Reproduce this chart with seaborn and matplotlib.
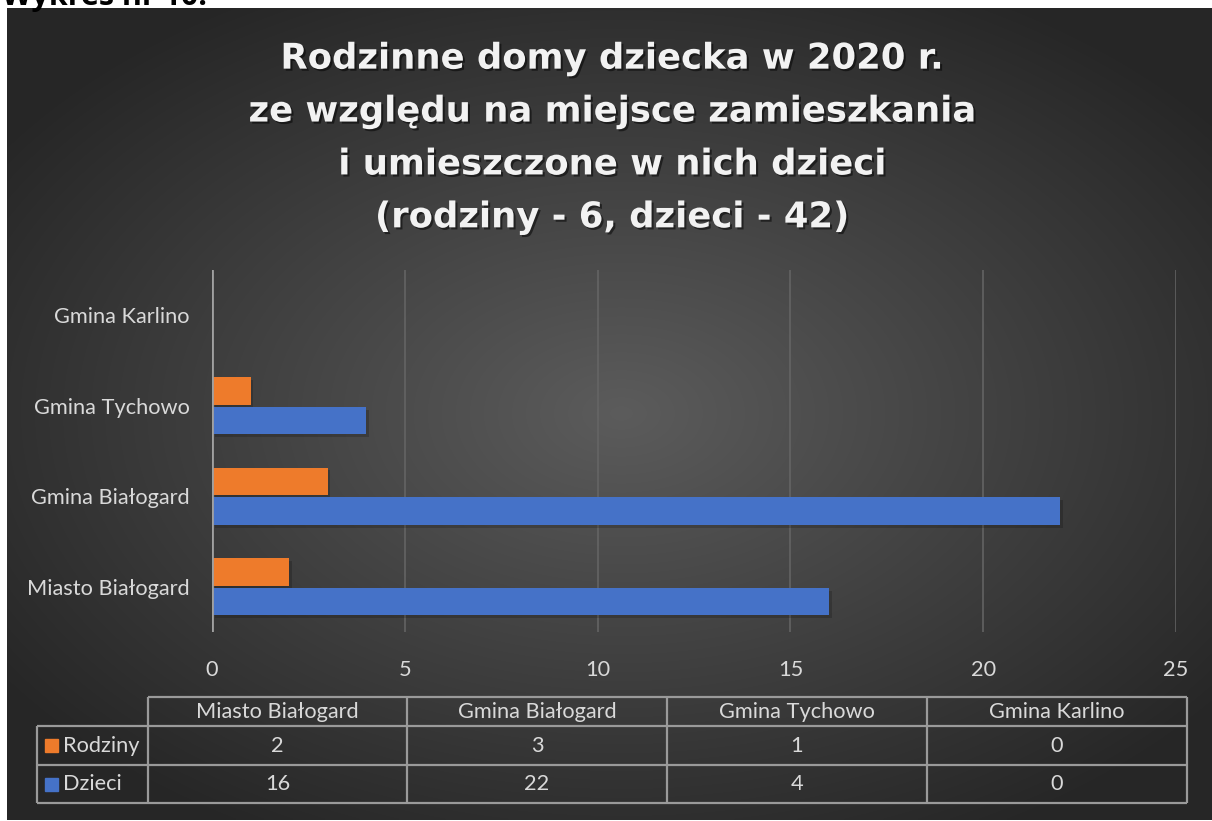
import numpy as np
import pandas as pd
import matplotlib
matplotlib.use("Agg")
import matplotlib.pyplot as plt
import matplotlib.patheffects as pe
import seaborn as sns

# dane
gminy = ['Miasto Białogard', 'Gmina Białogard', 'Gmina Tychowo', 'Gmina Karlino']
rodziny = [2, 3, 1, 0]
dzieci = [16, 22, 4, 0]
serie = ['Rodziny', 'Dzieci']
x_ticks = [0, 5, 10, 15, 20, 25]
tytul = 'Rodzinne domy dziecka w 2020 r.\nze względu na miejsce zamieszkania\ni umieszczone w nich dzieci\n(rodziny - 6, dzieci - 42)'

kolor_rodziny = '#EE7B2B'
kolor_dzieci = '#4572C8'
kolor_tekstu = '#d9d9d9'
fs = 15.7

df = pd.DataFrame({
    'gmina': gminy * 2,
    'seria': ['Rodziny'] * len(gminy) + ['Dzieci'] * len(gminy),
    'wartosc': rodziny + dzieci,
})

sns.set_style("white")
plt.rcParams['font.family'] = ['Lato', 'DejaVu Sans']

W, H = 1212, 821
fig = plt.figure(figsize=(W / 100, H / 100), dpi=100)
fig.patch.set_facecolor('white')

# tlo z gradientem (ciemny prostokat)
x0, y0, x1, y1 = 7, 8, 1212, 820
ax_bg = fig.add_axes([x0 / W, 1 - y1 / H, (x1 - x0) / W, (y1 - y0) / H])
gx, gy = np.meshgrid(np.linspace(-1, 1, 400), np.linspace(-1, 1, 300))
r = np.sqrt(((gx - 0.02) / 1.0) ** 2 + ((gy + 0.0) / 0.95) ** 2)
g = 0.36 - 0.21 * np.clip(r, 0, 1.25) / 1.25
ax_bg.imshow(np.dstack([g, g, g]), aspect='auto', extent=[0, 1, 0, 1], interpolation='bilinear')
ax_bg.set_axis_off()

# wykres glowny
ax = fig.add_axes([212 / W, 1 - 632 / H, (1176 - 212) / W, (632 - 270) / H])
ax.patch.set_alpha(0)
order_plot = gminy[::-1]
sns.barplot(data=df, y='gmina', x='wartosc', hue='seria', order=order_plot,
            hue_order=serie, palette=[kolor_rodziny, kolor_dzieci],
            orient='h', width=0.66, gap=0.08, ax=ax, legend=False, saturation=1,
            linewidth=0, edgecolor='none')
for p in ax.patches:
    p.set_path_effects([pe.SimplePatchShadow(offset=(2, -2), shadow_rgbFace='black', alpha=0.18), pe.Normal()])

ax.set_xlim(0, 25)
ax.set_ylim(3.5, -0.5)
ax.set_xticks(x_ticks)
ax.xaxis.grid(True, color='#666666', lw=1.1)
ax.set_axisbelow(True)
for s in ax.spines.values():
    s.set_visible(False)
ax.axvline(0, color='#a0a0a0', lw=2, zorder=1)
ax.tick_params(axis='x', length=0, pad=20, labelsize=fs, labelcolor=kolor_tekstu)
ax.tick_params(axis='y', length=0, pad=16, labelsize=fs, labelcolor=kolor_tekstu)
ax.set_xlabel('')
ax.set_ylabel('')

# tytul
fig.text(612 / W, 1 - 138 / H, tytul, ha='center', va='center', color='#f2f2f2',
         fontsize=25.5, fontweight='bold', family=['DejaVu Sans'],
         linespacing=1.7,
         path_effects=[pe.withSimplePatchShadow(offset=(1.5, -1.5), shadow_rgbFace='black', alpha=0.5)])

# naglowek poza ramka
fig.text(2 / W, 1 - 5 / H, 'Wykres nr 10.', ha='left', va='baseline', color='black',
         fontsize=22, fontweight='bold', family=['Open Sans', 'DejaVu Sans'])

# tabela danych
ax_t = fig.add_axes([0, 0, 1, 1])
ax_t.set_xlim(0, W)
ax_t.set_ylim(H, 0)
ax_t.set_axis_off()
ax_t.patch.set_alpha(0)
kol_x = [148, 407, 667, 927, 1187]
wiersz_y = [697, 726, 765, 803]
lab_x = 37
lc = '#9a9a9a'
lw = 1.6
ax_t.hlines(wiersz_y[0], kol_x[0], kol_x[-1], color=lc, lw=lw)
for yy in wiersz_y[1:]:
    ax_t.hlines(yy, lab_x, kol_x[-1], color=lc, lw=lw)
for xx in kol_x:
    ax_t.vlines(xx, wiersz_y[0], wiersz_y[-1], color=lc, lw=lw)
ax_t.vlines(lab_x, wiersz_y[1], wiersz_y[-1], color=lc, lw=lw)

for i, nazwa in enumerate(gminy):
    cx = (kol_x[i] + kol_x[i + 1]) / 2
    ax_t.text(cx, (wiersz_y[0] + wiersz_y[1]) / 2, nazwa, ha='center', va='center',
              color=kolor_tekstu, fontsize=fs)
    ax_t.text(cx, (wiersz_y[1] + wiersz_y[2]) / 2, str(rodziny[i]), ha='center', va='center',
              color=kolor_tekstu, fontsize=fs)
    ax_t.text(cx, (wiersz_y[2] + wiersz_y[3]) / 2, str(dzieci[i]), ha='center', va='center',
              color=kolor_tekstu, fontsize=fs)

for j, (seria, kol) in enumerate(zip(serie, [kolor_rodziny, kolor_dzieci])):
    cy = (wiersz_y[j + 1] + wiersz_y[j + 2]) / 2
    ax_t.add_patch(plt.Rectangle((45, cy - 6), 13, 13, color=kol))
    ax_t.text(63, cy, seria, ha='left', va='center', color=kolor_tekstu, fontsize=fs)

fig.savefig('out.png', dpi=100)
